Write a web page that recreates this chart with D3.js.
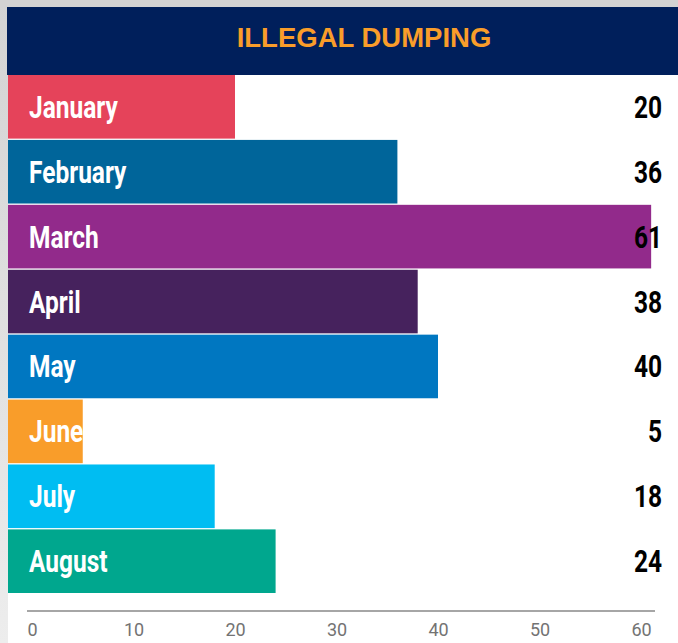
<!DOCTYPE html>
<html>
<head>
<meta charset="utf-8">
<script src="https://cdn.jsdelivr.net/npm/d3@7"></script>
<style>
  body { margin: 0; background: #d4d4d4; }
  svg { display: block; }
</style>
</head>
<body>
<script>
// chart data
var months = ["January", "February", "March", "April", "May", "June", "July", "August"];
var counts = [20, 36, 61, 38, 40, 5, 18, 24];
var barColors = ["#e5435a", "#00659a", "#922a8b", "#46225d", "#0077c1", "#f99d2a", "#00bdf2", "#00a78e"];
var tickValues = [0, 10, 20, 30, 40, 50, 60];
var title = "ILLEGAL DUMPING";

var W = 678, H = 643;

var svg = d3.select("body").append("svg")
    .attr("width", W)
    .attr("height", H);

// gray frame on the left, lighter toward the bottom
var defs = svg.append("defs");
var grad = defs.append("linearGradient")
    .attr("id", "edge")
    .attr("x1", 0).attr("y1", 0).attr("x2", 0).attr("y2", 1);
grad.append("stop").attr("offset", "0%").attr("stop-color", "#d3d3d3");
grad.append("stop").attr("offset", "100%").attr("stop-color", "#ededed");

svg.append("rect").attr("width", W).attr("height", H).attr("fill", "url(#edge)");
svg.append("rect").attr("x", 0).attr("y", 0).attr("width", W).attr("height", 7).attr("fill", "#d3d3d3");

// white panel
svg.append("rect")
    .attr("x", 8).attr("y", 7)
    .attr("width", W - 8).attr("height", H - 7)
    .attr("fill", "#ffffff");

// title band
svg.append("rect")
    .attr("x", 7).attr("y", 7)
    .attr("width", W - 7).attr("height", 68)
    .attr("fill", "#001f5b");

svg.append("text")
    .attr("x", 364).attr("y", 47)
    .attr("text-anchor", "middle")
    .attr("font-family", "'Liberation Sans', Arial, sans-serif")
    .attr("font-weight", "bold")
    .attr("font-size", 27.5)
    .attr("fill", "#f99d2a")
    .text(title);

// scales
var x = d3.scaleLinear()
    .domain([0, 60])
    .range([32, 641]);

var y = d3.scaleBand()
    .domain(months)
    .range([75, 593])
    .paddingInner(0.02);

var rows = months.map(function(m, i) {
  return {name: m, value: counts[i], color: barColors[i]};
});

// bars start at the panel edge
svg.selectAll(".bar")
    .data(rows)
    .enter().append("rect")
    .attr("class", "bar")
    .attr("x", 8)
    .attr("y", function(d) { return y(d.name); })
    .attr("width", function(d) { return x(d.value) - 8; })
    .attr("height", y.bandwidth())
    .attr("fill", function(d) { return d.color; });

// no condensed font installed, so squeeze Roboto bold sideways
var labelFont = "Roboto, 'Liberation Sans', sans-serif";
var squeeze = 0.79;

function baseline(d) { return y(d.name) + y.bandwidth() / 2 + 11; }

// month names inside the bars
svg.selectAll(".month")
    .data(rows)
    .enter().append("text")
    .attr("class", "month")
    .attr("transform", function(d) { return "translate(29," + baseline(d) + ") scale(" + squeeze + ",1)"; })
    .attr("font-family", labelFont)
    .attr("font-weight", "bold")
    .attr("font-size", 31)
    .attr("fill", "#ffffff")
    .text(function(d) { return d.name; });

// values on the right
svg.selectAll(".value")
    .data(rows)
    .enter().append("text")
    .attr("class", "value")
    .attr("transform", function(d) { return "translate(662," + baseline(d) + ") scale(" + squeeze + ",1)"; })
    .attr("text-anchor", "end")
    .attr("font-family", labelFont)
    .attr("font-weight", "bold")
    .attr("font-size", 31)
    .attr("fill", "#000000")
    .text(function(d) { return d.value; });

// bottom axis
var xAxis = d3.axisBottom(x)
    .tickValues(tickValues)
    .tickSize(0)
    .tickPadding(12);

var gx = svg.append("g")
    .attr("transform", "translate(0,611)")
    .call(xAxis);

gx.select(".domain").remove();
gx.append("line")
    .attr("x1", 27).attr("x2", 655)
    .attr("y1", 0).attr("y2", 0)
    .attr("stroke", "#a6a6a6")
    .attr("stroke-width", 2);

gx.selectAll("text")
    .attr("font-family", "Roboto, sans-serif")
    .attr("font-size", 18)
    .attr("fill", "#737373");
</script>
</body>
</html>
